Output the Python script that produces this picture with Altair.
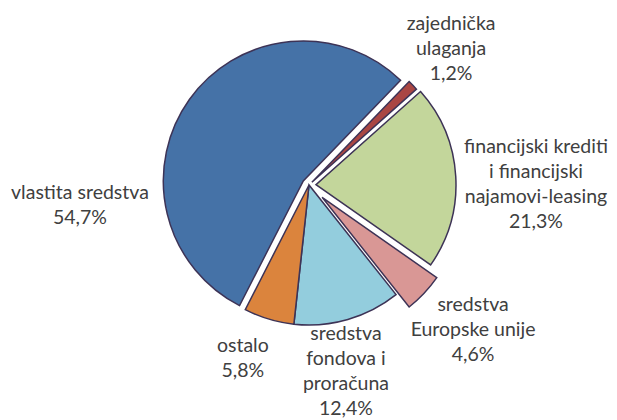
import math
import altair as alt
import pandas as pd

# ---- data ----
categories = [
    "zajednička ulaganja",
    "financijski krediti i financijski najamovi-leasing",
    "sredstva Europske unije",
    "sredstva fondova i proračuna",
    "ostalo",
    "vlastita sredstva",
]
label_lines = [
    "zajednička\nulaganja",
    "financijski krediti\ni financijski\nnajamovi-leasing",
    "sredstva\nEuropske unije",
    "sredstva\nfondova i\nproračuna",
    "ostalo",
    "vlastita sredstva",
]
shares = [1.2, 21.3, 4.6, 12.4, 5.8, 54.7]

# ---- style / layout ----
colors = ["#AA4643", "#C3D69B", "#D99795", "#93CDDD", "#DB843D", "#4572A7"]
explode = [4, 7, 18, 0, 0, 7]          # px pulled out along the slice bisector
label_radius = [197, 227, 219, 190, 186, 230]
label_shift_deg = [0, 3.2, -1.8, 4.9, 4.2, -40.7]
LINE_H = 25

W, H = 601, 411
CX, CY = 301, 177
R = 140
START = math.radians(44)

df = pd.DataFrame({
    "idx": list(range(len(categories))),
    "category": categories,
    "share": shares,
    "label": [f"{l}\n{str(v).replace('.', ',')}%" for l, v in zip(label_lines, shares)],
    "explode": explode,
    "lr": label_radius,
    "ls": label_shift_deg,
})

base = alt.Chart(df).transform_window(
    cum="sum(share)", sort=[alt.SortField("idx", order="ascending")], frame=[None, 0]
).transform_joinaggregate(
    total="sum(share)"
).transform_calculate(
    a0=f"{START} + 2*PI*(datum.cum - datum.share)/datum.total",
    a1=f"{START} + 2*PI*datum.cum/datum.total",
    nl="length(split(datum.label, '\\n'))",
).transform_calculate(
    mid="(datum.a0 + datum.a1)/2"
).transform_calculate(
    cx=f"{CX} + datum.explode*sin(datum.mid)",
    cy=f"{CY} - datum.explode*cos(datum.mid)",
    lx=f"{CX} + datum.lr*sin(datum.mid + datum.ls*PI/180)",
    ly=f"{CY} - datum.lr*cos(datum.mid + datum.ls*PI/180) - (datum.nl - 1)*{LINE_H}/2",
)

arcs = base.mark_arc(outerRadius=R, stroke="#3d3356", strokeWidth=1.5).encode(
    x=alt.X("cx:Q", scale=None, axis=None),
    y=alt.Y("cy:Q", scale=None, axis=None),
    theta=alt.Theta("a0:Q", scale=None, stack=None),
    theta2="a1:Q",
    color=alt.Color("category:N", scale=alt.Scale(domain=categories, range=colors), legend=None),
)

labels = base.mark_text(
    font="Lato", fontSize=19.5, lineBreak="\n", lineHeight=LINE_H,
    color="#404040", align="center", baseline="middle",
).encode(
    x=alt.X("lx:Q", scale=None, axis=None),
    y=alt.Y("ly:Q", scale=None, axis=None),
    text="label:N",
)

chart = alt.layer(arcs, labels).properties(
    width=W, height=H, autosize=alt.AutoSizeParams(type="none"), padding=0
).configure_view(stroke=None)

chart.save("out.html", embed_options={"renderer": "svg", "actions": False})
